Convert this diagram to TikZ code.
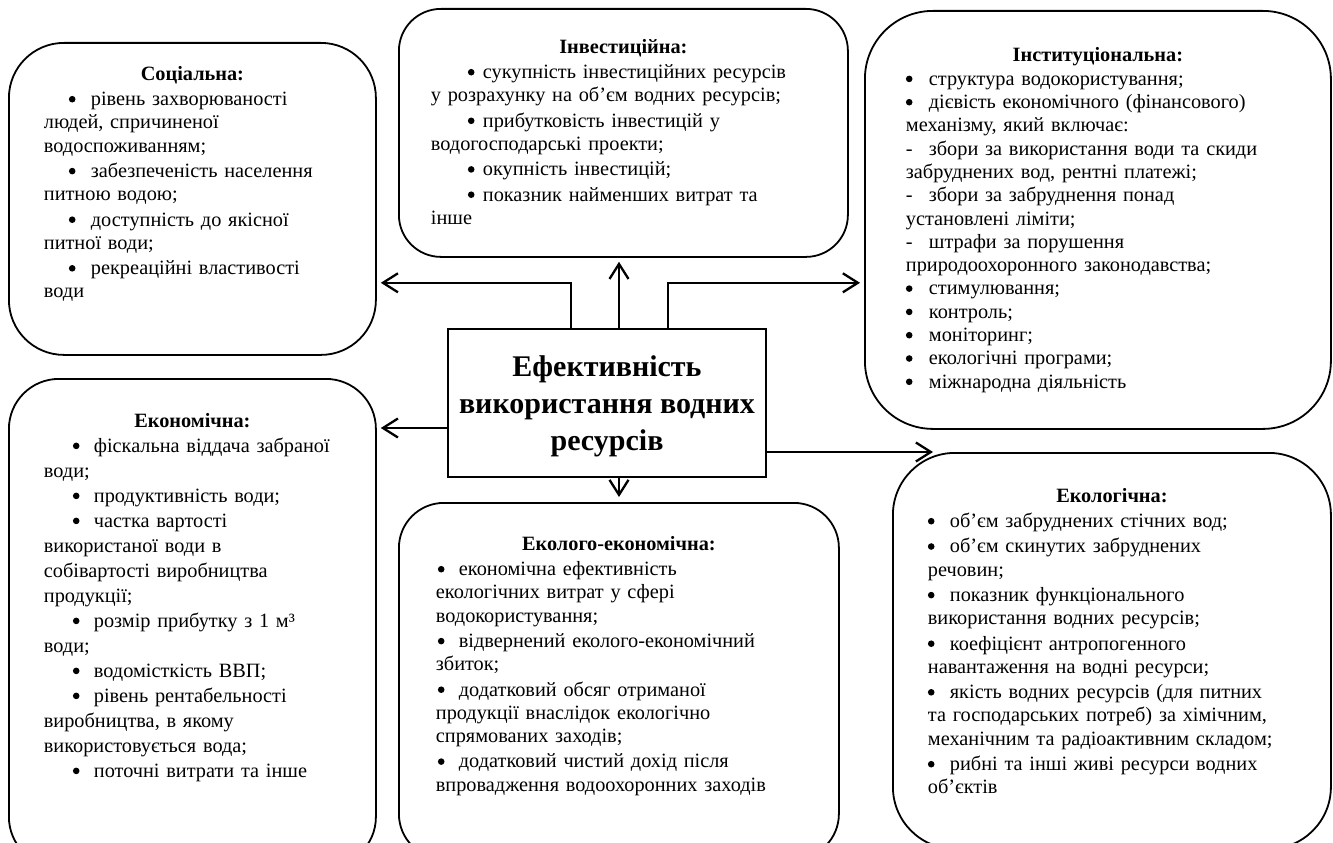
\documentclass[tikz,border=0pt]{standalone}
\usepackage{fontspec}
\setmainfont{Liberation Serif}
\usetikzlibrary{arrows.meta,positioning}
\newcommand{\hdr}[1]{\noindent\hspace*{\fill}\textbf{#1}\hspace*{\fill}\strut}
\newcommand{\pnt}[2]{\hspace*{#1}\makebox[#2][l]{\tikz[baseline=0pt]\fill (3.3pt,6.3pt) circle (3.3pt);}}
\newcommand{\dsh}[1]{\makebox[#1][l]{-}}
\begin{document}
\begin{tikzpicture}[x=1pt,y=-1pt,
	panel/.style={draw,line width=1.8pt,rounded corners=#1,inner sep=0pt,anchor=north west},
	txt/.style={text width=#1,align=left,inner sep=0pt,anchor=north,font=\fontsize{20.3}{23.3}\selectfont},
	arr/.style={line width=2.3pt,-{Straight Barb[length=15pt,width=19pt]}}]
	\useasboundingbox (0,0) rectangle (1333,843);
	\clip (0,0) rectangle (1333,843);
	\node[draw,line width=2.4pt,minimum width=318pt,minimum height=148pt,align=center,font=\bfseries\fontsize{30}{37}\selectfont] (main) at (607,403) {\rule{0pt}{28pt}Ефективність\\використання водних\\ресурсів};
	\node[panel=55pt,minimum width=367pt,minimum height=312pt] (soc) at (8,42) {};
	\node[panel=42pt,minimum width=449pt,minimum height=248pt] (inv) at (398,8) {};
	\node[panel=68pt,minimum width=466pt,minimum height=418pt] (inst) at (864,10) {};
	\node[panel=50pt,minimum width=367pt,minimum height=488pt] (econ) at (8,378) {};
	\node[panel=45pt,minimum width=440pt,minimum height=356pt] (ecec) at (398,502) {};
	\node[panel=62pt,minimum width=438pt,minimum height=396pt] (ecol) at (892,452) {};
	\node[txt=297pt] (socT) at ([yshift=-21.7pt]soc.north) {\hdr{Соціальна:}\\[2pt]
		\pnt{25pt}{22pt}рівень захворюваності\\
		людей, спричиненої\\
		водоспоживанням;\\[2pt]
		\pnt{25pt}{22pt}забезпеченість населення\\
		питною водою;\\[2pt]
		\pnt{25pt}{22pt}доступність до якісної\\
		питної води;\\[2pt]
		\pnt{25pt}{22pt}рекреаційні властивості\\
		води};
	\node[txt=385pt] (invT) at ([yshift=-28.7pt]inv.north) {\hdr{Інвестиційна:}\\[2pt]
		\pnt{37pt}{15pt}сукупність інвестиційних ресурсів\\
		у розрахунку на об’єм водних ресурсів;\\[2pt]
		\pnt{37pt}{15pt}прибутковість інвестицій у\\
		водогосподарські проекти;\\[2pt]
		\pnt{37pt}{15pt}окупність інвестицій;\\[2pt]
		\pnt{37pt}{15pt}показник найменших витрат та\\
		інше};
	\node[txt=384pt] (instT) at ([yshift=-35.4pt]inst.north) {\hdr{Інституціональна:}\\
		\pnt{0pt}{23pt}структура водокористування;\\
		\pnt{0pt}{23pt}дієвість економічного (фінансового)\\
		механізму, який включає:\\
		\dsh{23pt}збори за використання води та скиди\\
		забруднених вод, рентні платежі;\\
		\dsh{23pt}збори за забруднення понад\\
		установлені ліміти;\\
		\dsh{23pt}штрафи за порушення\\
		природоохоронного законодавства;\\
		\pnt{0pt}{23pt}стимулювання;\\
		\pnt{0pt}{23pt}контроль;\\
		\pnt{0pt}{23pt}моніторинг;\\
		\pnt{0pt}{23pt}екологічні програми;\\
		\pnt{0pt}{23pt}міжнародна діяльність};
	\node[txt=297pt,font=\fontsize{20.3}{25}\selectfont] (econT) at ([yshift=-31.5pt]econ.north) {\hdr{Економічна:}\\
		\pnt{29pt}{21pt}фіскальна віддача забраної\\
		води;\\
		\pnt{29pt}{21pt}продуктивність води;\\
		\pnt{29pt}{21pt}частка вартості\\
		використаної води в\\
		собівартості виробництва\\
		продукції;\\
		\pnt{29pt}{21pt}розмір прибутку з 1 м³\\
		води;\\
		\pnt{29pt}{21pt}водомісткість ВВП;\\
		\pnt{29pt}{21pt}рівень рентабельності\\
		виробництва, в якому\\
		використовується вода;\\
		\pnt{29pt}{21pt}поточні витрати та інше};
	\node[txt=366pt] (ececT) at ([yshift=-31.7pt]ecec.north) {\hdr{Еколого-економічна:}\\[2pt]
		\pnt{2pt}{21pt}економічна ефективність\\
		екологічних витрат у сфері\\
		водокористування;\\[2pt]
		\pnt{2pt}{21pt}відвернений еколого-економічний\\
		збиток;\\[2pt]
		\pnt{2pt}{21pt}додатковий обсяг отриманої\\
		продукції внаслідок екологічно\\
		спрямованих заходів;\\[2pt]
		\pnt{2pt}{21pt}додатковий чистий дохід після\\
		впровадження водоохоронних заходів};
	\node[txt=368pt] (ecolT) at ([yshift=-33.7pt]ecol.north) {\hdr{Екологічна:}\\[2pt]
		\pnt{0pt}{22pt}об’єм забруднених стічних вод;\\[2pt]
		\pnt{0pt}{22pt}об’єм скинутих забруднених\\
		речовин;\\[2pt]
		\pnt{0pt}{22pt}показник функціонального\\
		використання водних ресурсів;\\[2pt]
		\pnt{0pt}{22pt}коефіцієнт антропогенного\\
		навантаження на водні ресурси;\\[2pt]
		\pnt{0pt}{22pt}якість водних ресурсів (для питних\\
		та господарських потреб) за хімічним,\\
		механічним та радіоактивним складом;\\[2pt]
		\pnt{0pt}{22pt}рибні та інші живі ресурси водних\\
		об’єктів};
	\draw[arr,shorten >=4pt] ([xshift=12pt]main.north) -- ([xshift=12pt]main.north |- inv.south);
	\draw[arr,shorten >=4pt] ([xshift=-36pt]main.north) |- ([yshift=-25pt]soc.east |- inv.south);
	\draw[arr,shorten >=4pt] ([xshift=61pt]main.north) |- ([yshift=-25pt]inst.west |- inv.south);
	\draw[arr,shorten >=4pt] ([yshift=-25pt]main.west) -- ([yshift=-25pt]main.west -| econ.east);
	\draw[arr,shorten >=5pt] ([xshift=12pt]main.south) -- ([xshift=12pt]main.south |- ecec.north);
	\draw[arr] (main.east |- ecol.north) -- ([xshift=41pt]ecol.north west);
\end{tikzpicture}
\end{document}
